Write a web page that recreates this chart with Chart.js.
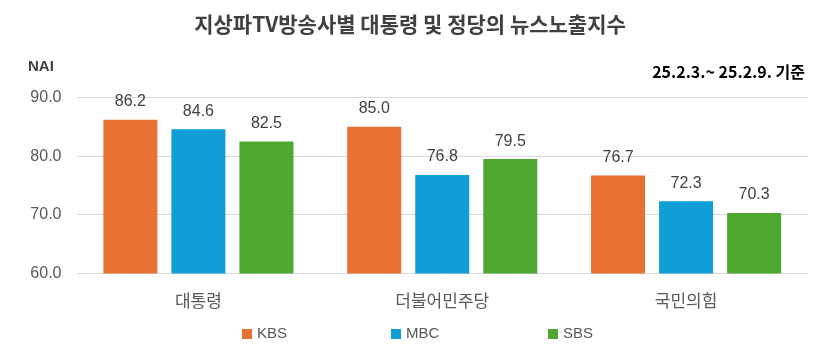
<!DOCTYPE html>
<html>
<head>
<meta charset="utf-8">
<script src="https://cdn.jsdelivr.net/npm/chart.js@4.4.1/dist/chart.umd.min.js"></script>
<style>
html,body{margin:0;padding:0;background:#fff;}
#wrap{width:822px;height:357px;position:relative;}
</style>
</head>
<body>
<div id="wrap"><canvas id="c" width="822" height="357"></canvas></div>
<script>
const categories = ['대통령', '더불어민주당', '국민의힘'];
const seriesNames = ['KBS', 'MBC', 'SBS'];
const kbsValues = [86.2, 85.0, 76.7];
const mbcValues = [84.6, 76.8, 72.3];
const sbsValues = [82.5, 79.5, 70.3];
const yTicks = [60, 70, 80, 90];
const titleText = '지상파TV방송사별 대통령 및 정당의 뉴스노출지수';
const unitText = 'NAI';
const periodText = '25.2.3.~ 25.2.9. 기준';

const colors = ['#E97132', '#0F9ED5', '#4EA72E'];
const seriesValues = [kbsValues, mbcValues, sbsValues];

const KR = '"Noto Sans CJK KR", "Noto Sans", sans-serif';
const NUM = '"Liberation Sans", Arial, sans-serif';

const textPlugin = {
  id: 'texts',
  afterDraw(chart) {
    const ctx = chart.ctx;
    ctx.save();
    // title
    ctx.fillStyle = '#404040';
    ctx.font = 'bold 21px ' + KR;
    ctx.textAlign = 'center';
    ctx.textBaseline = 'middle';
    ctx.fillText(titleText, 410, 24);
    // NAI
    ctx.font = 'bold 15px "Liberation Sans Narrow", ' + NUM;
    ctx.textAlign = 'left';
    ctx.fillText(unitText, 28, 67);
    // period
    ctx.fillStyle = '#000000';
    ctx.font = 'bold 16px ' + KR;
    ctx.textAlign = 'right';
    ctx.fillText(periodText, 805, 72);
    // legend
    const legX = [242, 391, 548];
    chart.data.datasets.forEach((ds, i) => {
      ctx.fillStyle = ds.backgroundColor;
      ctx.fillRect(legX[i], 329, 10, 10);
      ctx.fillStyle = '#595959';
      ctx.font = '15px ' + NUM;
      ctx.textAlign = 'left';
      ctx.textBaseline = 'middle';
      ctx.fillText(ds.label, legX[i] + 15, 334);
    });
    ctx.restore();
  },
  afterDatasetsDraw(chart) {
    const ctx = chart.ctx;
    ctx.save();
    ctx.fillStyle = '#404040';
    ctx.font = '16px ' + NUM;
    ctx.textAlign = 'center';
    ctx.textBaseline = 'middle';
    chart.data.datasets.forEach((ds, i) => {
      const meta = chart.getDatasetMeta(i);
      meta.data.forEach((bar, j) => {
        ctx.fillText(ds.data[j].toFixed(1), bar.x, bar.y - 18);
      });
    });
    ctx.restore();
  }
};

new Chart(document.getElementById('c'), {
  type: 'bar',
  data: {
    labels: categories,
    datasets: seriesNames.map((n, i) => ({
      label: n,
      data: seriesValues[i],
      backgroundColor: colors[i],
      borderWidth: 0,
      categoryPercentage: 0.837,
      barPercentage: 0.794
    }))
  },
  options: {
    responsive: false,
    animation: false,
    devicePixelRatio: 1,
    layout: { padding: { top: 97.5, left: 0, right: 14, bottom: 33.5 } },
    plugins: { legend: { display: false }, title: { display: false }, tooltip: { enabled: false } },
    scales: {
      x: {
        grid: { display: false, drawTicks: false },
        border: { display: false },
        ticks: { color: '#595959', font: { family: KR, size: 17 }, padding: 17 },
        afterFit(s) { s.height = 50; }
      },
      y: {
        min: 60, max: 90,
        afterBuildTicks(s) { s.ticks = yTicks.map(v => ({ value: v })); },
        grid: { color: '#d9d9d9', lineWidth: 1, drawTicks: false },
        border: { display: false },
        ticks: { color: '#595959', font: { family: NUM, size: 16 }, padding: 15, callback: v => Number(v).toFixed(1) },
        afterFit(s) { s.width = 76.5; }
      }
    }
  },
  plugins: [textPlugin]
});
</script>
</body>
</html>
